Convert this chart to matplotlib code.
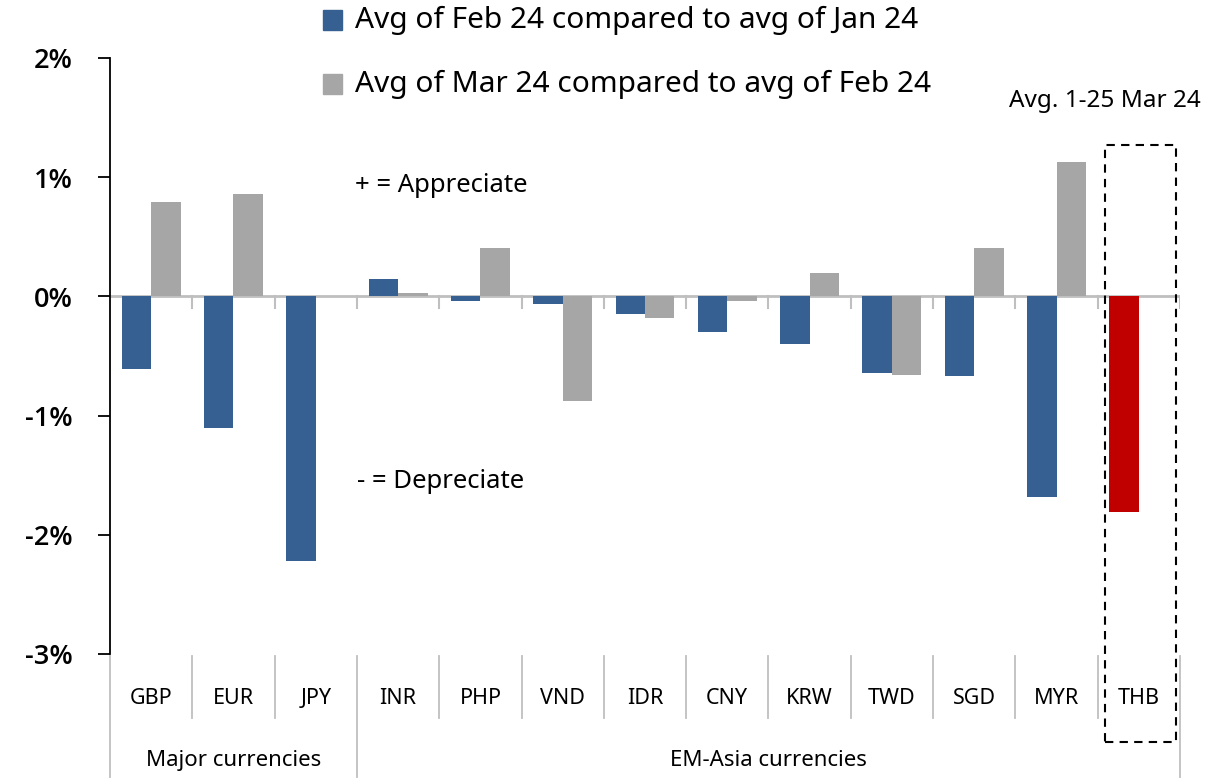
import matplotlib
matplotlib.use("Agg")
import matplotlib.pyplot as plt
from matplotlib.patches import Rectangle
import numpy as np

plt.rcParams['font.family'] = ['Noto Sans', 'DejaVu Sans']

categories = ["GBP", "EUR", "JPY", "INR", "PHP", "VND", "IDR", "CNY", "KRW", "TWD", "SGD", "MYR", "THB"]
feb_vs_jan = [-0.61, -1.10, -2.22, 0.15, -0.04, -0.065, -0.15, -0.30, -0.40, -0.645, -0.67, -1.68, -1.81]
mar_vs_feb = [0.79, 0.855, 0.0, 0.025, 0.41, -0.88, -0.18, -0.04, 0.20, -0.66, 0.41, 1.13, np.nan]
groups = [("Major currencies", 0, 2), ("EM-Asia currencies", 3, 12)]
legend_labels = ["Avg of Feb 24 compared to avg of Jan 24", "Avg of Mar 24 compared to avg of Feb 24"]
y_ticks = [-3, -2, -1, 0, 1, 2]

BLUE = "#376092"
GRAY = "#A6A6A6"
RED = "#C00000"

W, H = 1221, 778
fig = plt.figure(figsize=(W / 100, H / 100), dpi=100)
ax = fig.add_axes([110 / W, (H - 654) / H, (1180 - 110) / W, (654 - 58) / H])

x = np.arange(len(categories))
bw = 0.358
blue_colors = [BLUE] * (len(categories) - 1) + [RED]
ax.bar(x - bw / 2, feb_vs_jan, width=bw, color=blue_colors, zorder=2)
ax.bar(x + bw / 2, mar_vs_feb, width=bw, color=GRAY, zorder=2)

ax.set_xlim(-0.5, len(categories) - 0.5)
ax.set_ylim(-3, 2)
ax.set_yticks(y_ticks)
ax.set_yticklabels([f"{t}%" for t in y_ticks], fontsize=19.5, fontweight='semibold',
                   family=['Open Sans', 'DejaVu Sans'])
ax.tick_params(axis='y', direction='out', length=9, width=1.3, pad=18, colors='black')
ax.set_xticks([])
for s in ['top', 'right', 'bottom']:
    ax.spines[s].set_visible(False)
ax.spines['left'].set_linewidth(1.3)

# zero line
ax.axhline(0, color="#BFBFBF", lw=2, zorder=1)

trans = ax.get_xaxis_transform()
# tick marks at zero line
for b in np.arange(0.5, len(categories), 1.0):
    ax.plot([b, b], [0, -0.1], color="#BFBFBF", lw=1.5, zorder=1)

# category separators below axis
group_edges = [-0.5, 2.5, len(categories) - 0.5]
for b in np.arange(-0.5, len(categories), 1.0):
    y0 = -0.207 if b in group_edges else -0.107
    ax.plot([b, b], [-0.003, y0], color="#BFBFBF", lw=1.3, transform=trans, clip_on=False)

for i, c in enumerate(categories):
    ax.text(i, -0.074, c, transform=trans, ha='center', va='center', fontsize=15.5)
for name, a, b in groups:
    ax.text((a + b) / 2, -0.178, name, transform=trans, ha='center', va='center', fontsize=16)

# dashed box around THB
x0 = (1105 - 110) / 82.31 - 0.5
x1 = (1176 - 110) / 82.31 - 0.5
y0 = (654 - 742) / 596
y1 = (654 - 145) / 596
ax.add_patch(Rectangle((x0, y0), x1 - x0, y1 - y0, transform=trans, fill=False,
                       ls=(0, (4, 3)), lw=1.5, ec='black', clip_on=False, zorder=3))
ax.text((1105 - 110) / 82.31 - 0.5, (654 - 101) / 596, "Avg. 1-25 Mar 24", transform=trans,
        ha='center', va='center', fontsize=17.5)

# annotations
ax.text(355 / W, (H - 186) / H, "+ = Appreciate", transform=fig.transFigure, ha='left', va='center', fontsize=18.5)
ax.text(357 / W, (H - 481) / H, "- = Depreciate", transform=fig.transFigure, ha='left', va='center', fontsize=18.5)

# legend
for (col, lab, yc) in [(BLUE, legend_labels[0], 20), (GRAY, legend_labels[1], 84)]:
    fig.patches.append(Rectangle((323 / W, (H - yc - 10) / H), 19 / W, 20 / H,
                                 transform=fig.transFigure, color=col))
    fig.text(355 / W, (H - yc) / H, lab, ha='left', va='center', fontsize=21.5)

fig.savefig("out.png", dpi=100)
